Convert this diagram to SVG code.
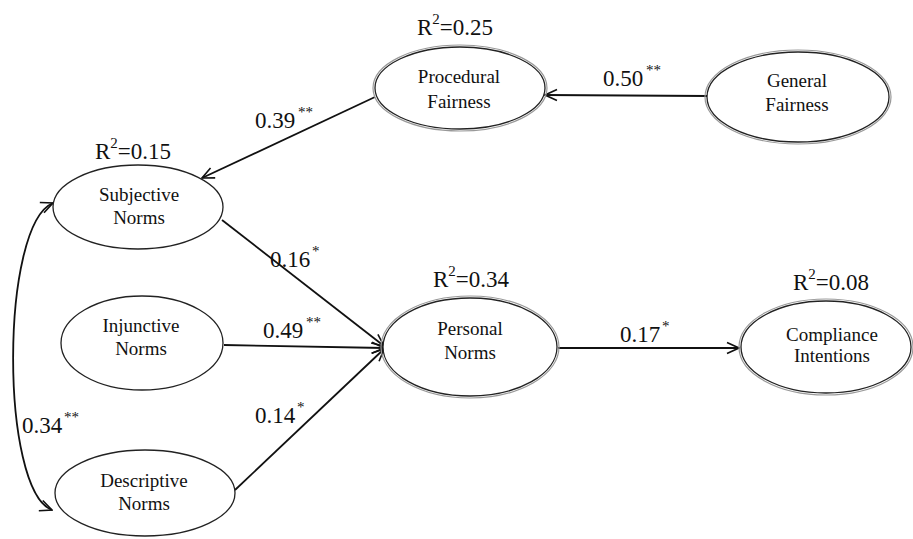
<svg xmlns="http://www.w3.org/2000/svg" width="913" height="539" viewBox="0 0 913 539" font-family="'Liberation Serif', 'DejaVu Serif', 'Times New Roman', serif">
<style>
.node{fill:#fff;stroke:#222;stroke-width:1.3}
.outer{fill:none;stroke:#999;stroke-width:1.2}
text{font-family:'Liberation Serif','DejaVu Serif','Times New Roman',serif;fill:#111}
.nt{font-size:19px;text-anchor:middle}
.num{font-size:23px}
.sup{font-size:15px}
.edge{fill:none;stroke:#111;stroke-width:1.8}
</style>
<defs>
<marker id="arr" viewBox="0 0 14 14" refX="13" refY="7" markerWidth="14" markerHeight="14" markerUnits="userSpaceOnUse" orient="auto-start-reverse">
<path d="M1,1.5 L13,7 L1,12.5" fill="none" stroke="#111" stroke-width="1.6"/>
</marker>
</defs>
<rect width="913" height="539" fill="#fff"/>
<g id="connectors">
<path class="edge" d="M707,96 L545,95" marker-end="url(#arr)"/>
<path class="edge" d="M375,97 L202,178" marker-end="url(#arr)"/>
<path class="edge" d="M222,220 L384,346" marker-end="url(#arr)"/>
<path class="edge" d="M224,345 L384,348" marker-end="url(#arr)"/>
<path class="edge" d="M235,490 L384,349" marker-end="url(#arr)"/>
<path class="edge" d="M558,348 L739,348" marker-end="url(#arr)"/>
<path class="edge" d="M53,203 C0,225 0,490 52,510" marker-start="url(#arr)" marker-end="url(#arr)"/>
</g>
<g id="labels">
<text class="num" x="603" y="86">0.50</text><text class="sup" x="646" y="75">**</text>
<text class="num" x="255" y="128">0.39</text><text class="sup" x="298" y="117">**</text>
<text class="num" x="270" y="267">0.16</text><text class="sup" x="312" y="256">*</text>
<text class="num" x="263" y="338">0.49</text><text class="sup" x="306" y="327">**</text>
<text class="num" x="255" y="423">0.14</text><text class="sup" x="297" y="412">*</text>
<text class="num" x="620" y="342">0.17</text><text class="sup" x="662" y="331">*</text>
<text class="num" x="22" y="433">0.34</text><text class="sup" x="64" y="422">**</text>
</g>
<g id="procedural">
<ellipse class="outer" cx="460" cy="88" rx="87" ry="43"/>
<ellipse class="node" cx="460" cy="88" rx="85" ry="41"/>
<text class="nt" x="459" y="83">Procedural</text>
<text class="nt" x="459" y="108">Fairness</text>
<text class="num" x="417" y="35">R<tspan class="sup" dy="-11">2</tspan><tspan dy="11">=0.25</tspan></text>
</g>
<g id="general">
<ellipse class="outer" cx="798" cy="97" rx="93" ry="47"/>
<ellipse class="node" cx="798" cy="97" rx="91" ry="45"/>
<text class="nt" x="797" y="87">General</text>
<text class="nt" x="797" y="111">Fairness</text>
</g>
<g id="subjective">
<ellipse class="node" cx="138" cy="207" rx="85" ry="42"/>
<text class="nt" x="139" y="201">Subjective</text>
<text class="nt" x="139" y="224">Norms</text>
<text class="num" x="95" y="159">R<tspan class="sup" dy="-11">2</tspan><tspan dy="11">=0.15</tspan></text>
</g>
<g id="injunctive">
<ellipse class="node" cx="142" cy="343" rx="81" ry="47"/>
<text class="nt" x="141" y="332">Injunctive</text>
<text class="nt" x="141" y="355">Norms</text>
</g>
<g id="descriptive">
<ellipse class="node" cx="145" cy="493" rx="90" ry="43"/>
<text class="nt" x="144" y="487">Descriptive</text>
<text class="nt" x="144" y="510">Norms</text>
</g>
<g id="personal">
<ellipse class="outer" cx="470" cy="347" rx="89" ry="51"/>
<ellipse class="node" cx="470" cy="347" rx="87" ry="49"/>
<text class="nt" x="470" y="335">Personal</text>
<text class="nt" x="470" y="359">Norms</text>
<text class="num" x="433" y="287">R<tspan class="sup" dy="-11">2</tspan><tspan dy="11">=0.34</tspan></text>
</g>
<g id="compliance">
<ellipse class="outer" cx="826" cy="347" rx="87" ry="48"/>
<ellipse class="node" cx="826" cy="347" rx="85" ry="46"/>
<text class="nt" x="832" y="341">Compliance</text>
<text class="nt" x="832" y="362">Intentions</text>
<text class="num" x="793" y="290">R<tspan class="sup" dy="-11">2</tspan><tspan dy="11">=0.08</tspan></text>
</g>
</svg>
